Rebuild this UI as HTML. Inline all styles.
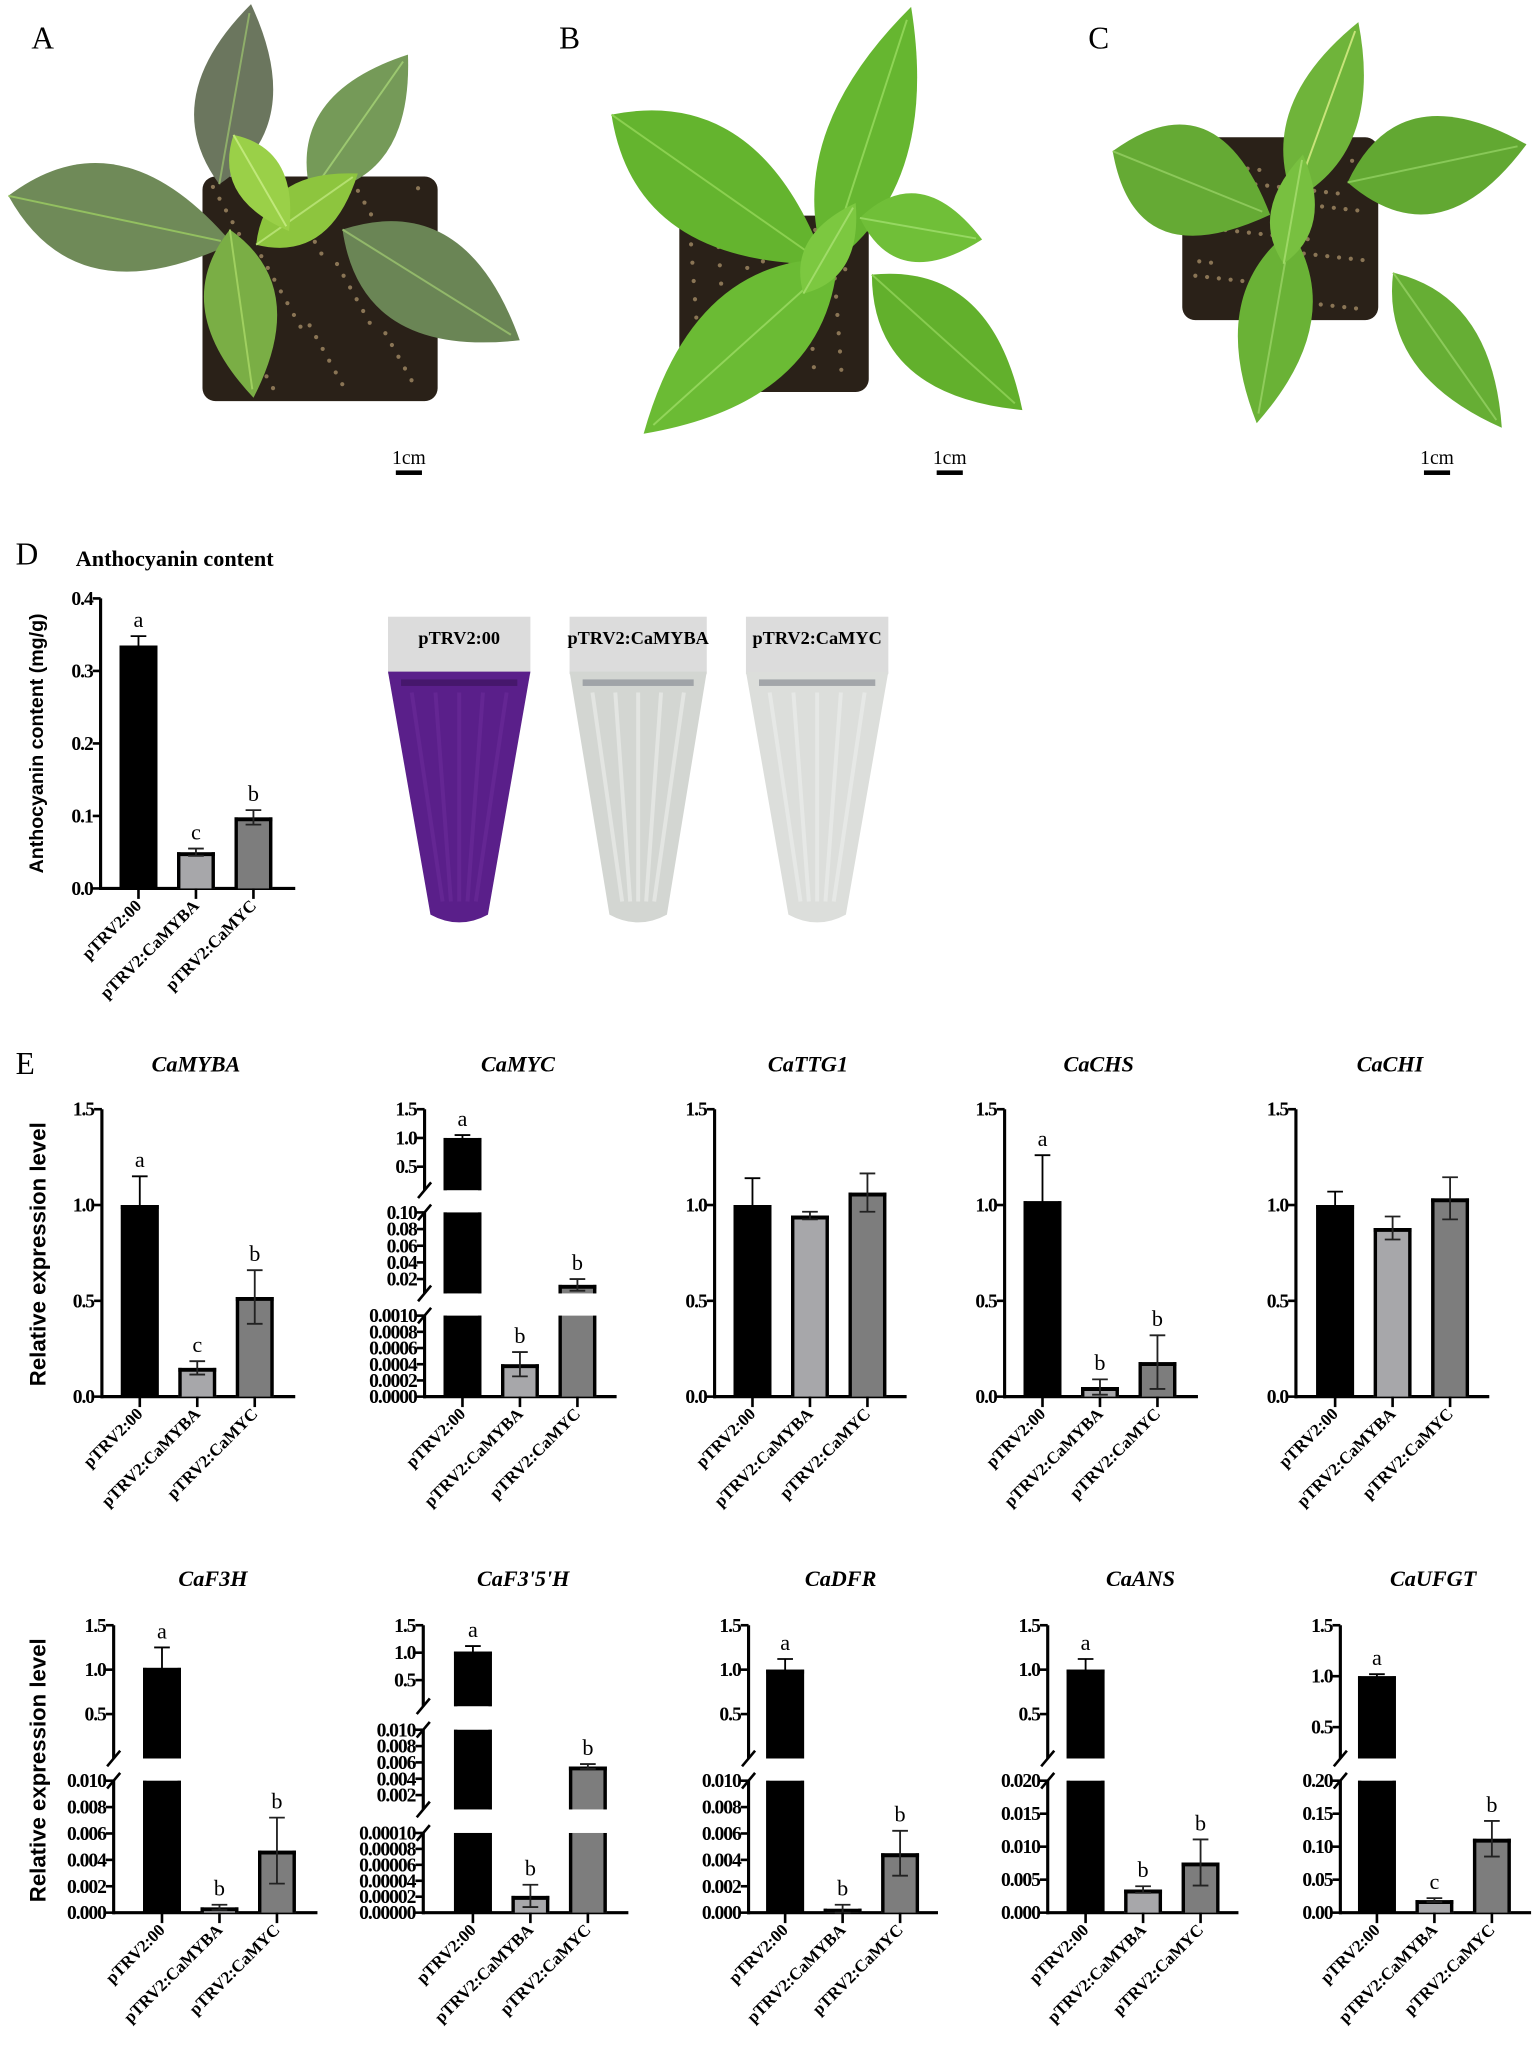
<!DOCTYPE html>
<html><head><meta charset="utf-8">
<style>
html,body{margin:0;padding:0;background:#fff;}
svg{display:block;}
text{font-family:"Liberation Serif",serif;}
.sans{font-family:"Liberation Sans",sans-serif;}
</style></head>
<body>
<svg id="fig" width="1535" height="2046" viewBox="0 0 1175 1566" xmlns="http://www.w3.org/2000/svg">
  <rect x="0" y="0" width="1175" height="1566" fill="#fff"/>
  <g id="photos"></g>
  <text x="24" y="37" font-size="24">A</text>
  <text x="428" y="37" font-size="24">B</text>
  <text x="833" y="37" font-size="24">C</text>

  <text x="12" y="432" font-size="24">D</text>
  <text x="58" y="433" font-size="17" font-weight="bold">Anthocyanin content</text>
  <g id="tubes"></g>
  <g id="chartD"></g>

  <text x="12" y="822" font-size="24">E</text>
  <g id="chartsE"></g>
</svg>
<script>
// ---------- DATA ----------
const groups = ["pTRV2:00", "pTRV2:CaMYBA", "pTRV2:CaMYC"];
const anthoValues = [0.335, 0.05, 0.098];
const anthoErrors = [0.013, 0.005, 0.010];
const anthoLetters = ["a", "c", "b"];
const anthoTicks = [0, 0.1, 0.2, 0.3, 0.4];

const genes = ["CaMYBA", "CaMYC", "CaTTG1", "CaCHS", "CaCHI", "CaF3H", "CaF3'5'H", "CaDFR", "CaANS", "CaUFGT"];
const exprValues = [
  [1.0, 0.15, 0.52],
  [1.0, 0.0004, 0.013],
  [1.0, 0.945, 1.065],
  [1.02, 0.05, 0.18],
  [1.0, 0.88, 1.035],
  [1.02, 0.0004, 0.0047],
  [1.02, 0.000021, 0.0055],
  [1.0, 0.0003, 0.0045],
  [1.0, 0.0035, 0.0076],
  [1.0, 0.019, 0.112]
];
const exprErrors = [
  [0.15, 0.035, 0.14],
  [0.05, 0.00015, 0.007],
  [0.14, 0.02, 0.10],
  [0.24, 0.04, 0.14],
  [0.07, 0.06, 0.11],
  [0.23, 0.0002, 0.0025],
  [0.10, 0.000014, 0.0003],
  [0.12, 0.0003, 0.0017],
  [0.12, 0.0005, 0.0035],
  [0.02, 0.003, 0.027]
];
const exprLetters = [
  ["a","c","b"], ["a","b","b"], ["","",""], ["a","b","b"], ["","",""],
  ["a","b","b"], ["a","b","b"], ["a","b","b"], ["a","b","b"], ["a","c","b"]
];
const simpleTicks = [0, 0.5, 1.0, 1.5];
const topTicks = [0.5, 1.0, 1.5];
const mycMidTicks = [0.02, 0.04, 0.06, 0.08, 0.10];
const mycLowTicks = [0, 0.0002, 0.0004, 0.0006, 0.0008, 0.0010];
const f35MidTicks = [0.002, 0.004, 0.006, 0.008, 0.010];
const f35LowTicks = [0, 0.00002, 0.00004, 0.00006, 0.00008, 0.00010];
const f3hLowTicks = [0, 0.002, 0.004, 0.006, 0.008, 0.010];
const ansLowTicks = [0, 0.005, 0.010, 0.015, 0.020];
const ufgtLowTicks = [0, 0.05, 0.10, 0.15, 0.20];

// ---------- LAYOUT ----------
const NS = "http://www.w3.org/2000/svg";
const fills = ["#000000", "#a7a7aa", "#7d7d7d"];
function mk(tag, attrs, parent) {
  const e = document.createElementNS(NS, tag);
  for (const k in attrs) e.setAttribute(k, attrs[k]);
  if (parent) parent.appendChild(e);
  return e;
}
function seg(a, ya, b, yb, bot, top, ticks, dec) {
  return {a, ya, b, yb, bot, top, ticks, dec, y: v => ya + (v - a) * (yb - ya) / (b - a)};
}
function fmt(v, d) { return v.toFixed(d); }

const r1 = {bot: 1069, top: 849};
const r2 = {bot: 1464, top: 1244};
function simpleSegs() { return [seg(0, r1.bot, 1.5, r1.top, r1.bot, r1.top, simpleTicks, 1)]; }
function row2Segs(low, lowMax, dec, tp1y) {
  return [
    seg(0, r2.bot, lowMax, 1363, r2.bot, 1363, low, dec),
    seg(1.0, tp1y, 1.5, 1244, 1346, 1244, topTicks, 1)
  ];
}
const chartLayouts = [
  {ax: 78, b0: 107, end: 226, segs: simpleSegs()},
  {ax: 325, b0: 354, end: 472, segs: [
    seg(0, 1069, 0.001, 1007, 1069, 1007, mycLowTicks, 4),
    seg(0.02, 979, 0.10, 928, 990, 928, mycMidTicks, 2),
    seg(1.0, 871, 1.5, 849, 911, 849, topTicks, 1)]},
  {ax: 547, b0: 576, end: 694, segs: simpleSegs()},
  {ax: 769, b0: 798, end: 917, segs: simpleSegs()},
  {ax: 992, b0: 1022, end: 1140, segs: simpleSegs()},
  {ax: 87, b0: 124, end: 243, segs: row2Segs(f3hLowTicks, 0.010, 3, 1278)},
  {ax: 324, b0: 362, end: 481, segs: [
    seg(0, 1464, 0.0001, 1403, 1464, 1403, f35LowTicks, 5),
    seg(0.002, 1374, 0.010, 1324, 1385, 1324, f35MidTicks, 3),
    seg(1.0, 1265, 1.5, 1244, 1306, 1244, topTicks, 1)]},
  {ax: 573, b0: 601, end: 718, segs: row2Segs(f3hLowTicks, 0.010, 3, 1278)},
  {ax: 802, b0: 831, end: 948, segs: row2Segs(ansLowTicks, 0.020, 3, 1278)},
  {ax: 1026, b0: 1054, end: 1172, segs: row2Segs(ufgtLowTicks, 0.20, 2, 1283)}
];
const titleY = [820, 820, 820, 820, 820, 1214, 1214, 1214, 1214, 1214];
const barGap = 44, barW = 29;

function segFor(segs, v) {
  for (let i = 0; i < segs.length; i++) {
    if (segs[i].y(v) >= segs[i].top - 0.01) return segs[i];
  }
  return segs[segs.length - 1];
}

function drawChart(parent, name, L, values, errors, letters) {
  const g = mk("g", {}, parent);
  
  
  const segs = L.segs;
  const base = segs[0].bot;
  segs.forEach((s, i) => {
    const ln = mk("line", {x1: L.ax, x2: L.ax, y1: s.bot + (i === 0 ? 1.2 : 0), y2: s.top, stroke: "#000", "stroke-width": 2.4}, g);
    
    
    s.ticks.forEach(t => {
      const ty = s.y(t);
      mk("line", {x1: L.ax - 6, x2: L.ax, y1: ty, y2: ty, stroke: "#000", "stroke-width": 2}, g);
      const tx = mk("text", {x: L.ax - 6, y: ty + 5, "font-size": 15, "font-weight": "bold", "text-anchor": "end", "letter-spacing": "-0.8"}, g);
      tx.textContent = fmt(t, s.dec);
      
      
    });
    if (segs.length > 1) {
      if (i > 0) mk("line", {x1: L.ax - 5, y1: s.bot + 6, x2: L.ax + 5, y2: s.bot - 6, stroke: "#000", "stroke-width": 2}, g);
      if (i < segs.length - 1) mk("line", {x1: L.ax - 5, y1: s.top + 6, x2: L.ax + 5, y2: s.top - 6, stroke: "#000", "stroke-width": 2}, g);
    }
  });
  const xa = mk("line", {x1: L.ax - 1, x2: L.end, y1: base, y2: base, stroke: "#000", "stroke-width": 2.4}, g);
  
  
  values.forEach((v, k) => {
    const cx = L.b0 + k * barGap;
    const x0 = cx - barW / 2, x1 = cx + barW / 2;
    segs.forEach((s, i) => {
      if (i > 0 && s.y(v) >= s.bot - 3) return;
      const yv = Math.max(s.y(v), s.top);
      const bar = mk("rect", {x: x0, y: yv, width: barW, height: Math.max(0, s.bot - yv), fill: fills[k]}, g);
      
      
      const bw = 2.6;
      mk("line", {x1: x0 + bw / 2, x2: x0 + bw / 2, y1: yv, y2: s.bot, stroke: "#000", "stroke-width": bw}, g);
      mk("line", {x1: x1 - bw / 2, x2: x1 - bw / 2, y1: yv, y2: s.bot, stroke: "#000", "stroke-width": bw}, g);
      if (s.y(v) >= s.top) mk("line", {x1: x0, x2: x1, y1: yv + 1.5, y2: yv + 1.5, stroke: "#000", "stroke-width": 3}, g);
    });
    const sv = segFor(segs, v);
    const yh = Math.max(sv.y(v + errors[k]), sv.top - 10), yl = Math.min(sv.y(Math.max(v - errors[k], 0)), sv.bot);
    const eb = mk("path", {d: `M${cx},${yl}V${yh}M${cx - 6},${yh}H${cx + 6}M${cx - 6},${yl}H${cx + 6}`, stroke: k === 0 ? "#000" : "#222", "stroke-width": 1.4, fill: "none"}, g);
    
    
    if (letters[k]) {
      const lt = mk("text", {x: cx, y: yh - 7, "font-size": 17, "text-anchor": "middle"}, g);
      lt.textContent = letters[k];
      
      
    }
    mk("line", {x1: cx, x2: cx, y1: base, y2: base + 8, stroke: "#000", "stroke-width": 2}, g);
    const lx = cx + 3, ly = base + 14;
    const xl = mk("text", {x: lx, y: ly, "font-size": 13, "font-weight": "bold", "text-anchor": "end", transform: `rotate(-45 ${lx} ${ly})`}, g);
    xl.textContent = groups[k];
    
    
  });
  return g;
}

// ---------- PANEL E ----------
const gE = document.getElementById("chartsE");
genes.forEach((gn, i) => {
  const L = chartLayouts[i];
  drawChart(gE, gn.toLowerCase().replace(/[^a-z0-9]+/g, '-'), L, exprValues[i], exprErrors[i], exprLetters[i]);
  const t = mk("text", {x: (L.ax + L.end) / 2 - 2, y: titleY[i], "font-size": 17, "font-weight": "bold", "font-style": "italic", "text-anchor": "middle"}, gE);
  t.textContent = gn;
  
  
});
[[35, 960], [35, 1355]].forEach(p => {
  const yl = mk("text", {x: p[0], y: p[1], "font-size": 17, "font-weight": "bold", "text-anchor": "middle", "class": "sans", transform: `rotate(-90 ${p[0]} ${p[1]})`}, gE);
  yl.textContent = "Relative expression level";
  
  
});

// ---------- PANEL D ----------
const gD = document.getElementById("chartD");
const dLayout = {ax: 77, b0: 106, end: 226, segs: [seg(0, 680, 0.4, 458, 680, 458, anthoTicks, 1)]};
drawChart(gD, 'anthocyanin', dLayout, anthoValues, anthoErrors, anthoLetters);
{
  const yl = mk("text", {x: 33, y: 569, "font-size": 15, "font-weight": "bold", "text-anchor": "middle", "class": "sans", transform: "rotate(-90 33 569)"}, gD);
  yl.textContent = "Anthocyanin content (mg/g)";
  
  
}

// ---------- TUBES ----------
const gT = document.getElementById("tubes");
const tubes = [
  {x0: 297, x1: 406, liquid: "#5a1f8a", label: "pTRV2:00"},
  {x0: 436, x1: 541, liquid: "#d3d6d2", label: "pTRV2:CaMYBA"},
  {x0: 571, x1: 680, liquid: "#dcdedb", label: "pTRV2:CaMYC"}
];
tubes.forEach(t => {
  const cx = (t.x0 + t.x1) / 2;
  const g = mk("g", {}, gT);
  
  
  mk("rect", {x: t.x0, y: 472, width: t.x1 - t.x0, height: 44, fill: "#dcdcdc"}, g);
  mk("path", {d: `M${t.x0},514 L${t.x1},514 L${cx + 22},700 Q${cx},712 ${cx - 22},700 Z`, fill: t.liquid}, g);
  for (let j = 1; j < 6; j++) {
    const fx = t.x0 + (t.x1 - t.x0) * j / 6;
    mk("line", {x1: fx, y1: 530, x2: cx + (fx - cx) * 0.35, y2: 690, stroke: t.label === "pTRV2:00" ? "#6b2c9a" : "#eef0ee", "stroke-width": 3, opacity: 0.6}, g);
  }
  mk("rect", {x: t.x0 + 10, y: 520, width: t.x1 - t.x0 - 20, height: 5, fill: t.label === "pTRV2:00" ? "#3d1460" : "#8a8f95", opacity: 0.7}, g);
  const lb = mk("text", {x: cx, y: 493, "font-size": 14, "font-weight": "bold", "text-anchor": "middle"}, g);
  lb.textContent = t.label;
  
  
});

// ---------- PLANT PHOTOS ----------
const gP = document.getElementById("photos");
function leaf(g, cx, cy, len, wid, ang, col, vein) {
  const h = len / 2;
  const p = mk("path", {d: `M${-h},0 Q${-h * 0.2},${-wid * 0.95} ${h},0 Q${-h * 0.2},${wid * 0.95} ${-h},0 Z`, fill: col, transform: `translate(${cx} ${cy}) rotate(${ang})`}, g);
  mk("line", {x1: -h, y1: 0, x2: h * 0.9, y2: 0, stroke: vein, "stroke-width": 1.5, transform: `translate(${cx} ${cy}) rotate(${ang})`}, g);
  return p;
}
function pot(g, x, y, w, h) {
  mk("rect", {x, y, width: w, height: h, rx: 10, fill: "#2a2118"}, g);
  for (let i = 0; i < 60; i++) {
    const px = x + 8 + ((i * 37) % (w - 16)), py = y + 8 + ((i * 53) % (h - 16));
    mk("circle", {cx: px, cy: py, r: 1.6, fill: "#8a7555"}, g);
  }
}
const pA = mk("g", {}, gP);


pot(pA, 155, 135, 180, 172);
leaf(pA, 92, 168, 175, 85, 12, "#6f8a58", "#93c060");
leaf(pA, 180, 72, 140, 62, -80, "#6b765e", "#8fae6a");
leaf(pA, 275, 95, 130, 62, -55, "#759a58", "#9cc870");
leaf(pA, 330, 218, 160, 80, 32, "#6a8555", "#92b86a");
leaf(pA, 185, 240, 130, 58, 82, "#7aae45", "#a0d060");
leaf(pA, 235, 160, 95, 46, -35, "#8dc53e", "#b4e070");
leaf(pA, 200, 140, 85, 40, 60, "#9ad048", "#c0e87a");

const pB = mk("g", {}, gP);


pot(pB, 520, 165, 145, 135);
leaf(pB, 550, 145, 200, 88, 35, "#64b42e", "#8bd050");
leaf(pB, 665, 105, 210, 68, -72, "#66b630", "#8fd456");
leaf(pB, 725, 262, 155, 72, 42, "#62b02c", "#88cc50");
leaf(pB, 567, 265, 200, 80, 138, "#6bbb34", "#92d55a");
leaf(pB, 705, 175, 95, 55, 10, "#70bf38", "#96d862");
leaf(pB, 635, 190, 80, 35, -60, "#7cc840", "#a0dc68");

const pC = mk("g", {}, gP);


pot(pC, 905, 105, 150, 140);
leaf(pC, 912, 140, 130, 88, 22, "#65aa34", "#8cc85a");
leaf(pC, 1015, 85, 145, 55, -70, "#6fb43a", "#c8e47a");
leaf(pC, 1100, 125, 140, 78, -12, "#62a832", "#88c858");
leaf(pC, 975, 250, 150, 58, 100, "#6ab236", "#90cc5c");
leaf(pC, 1108, 268, 145, 55, 55, "#66ae34", "#8cca5a");
leaf(pC, 990, 160, 85, 35, -80, "#78c040", "#9ed866");

[[313, 'a'], [727, 'b'], [1100, 'c']].forEach(s => {
  const t = mk("text", {x: s[0], y: 355, "font-size": 15, "text-anchor": "middle"}, gP);
  t.textContent = "1cm";
  
  
  const r = mk("rect", {x: s[0] - 10, y: 360, width: 20, height: 3.5, fill: "#000"}, gP);
  
  
});
</script>
</body></html>
